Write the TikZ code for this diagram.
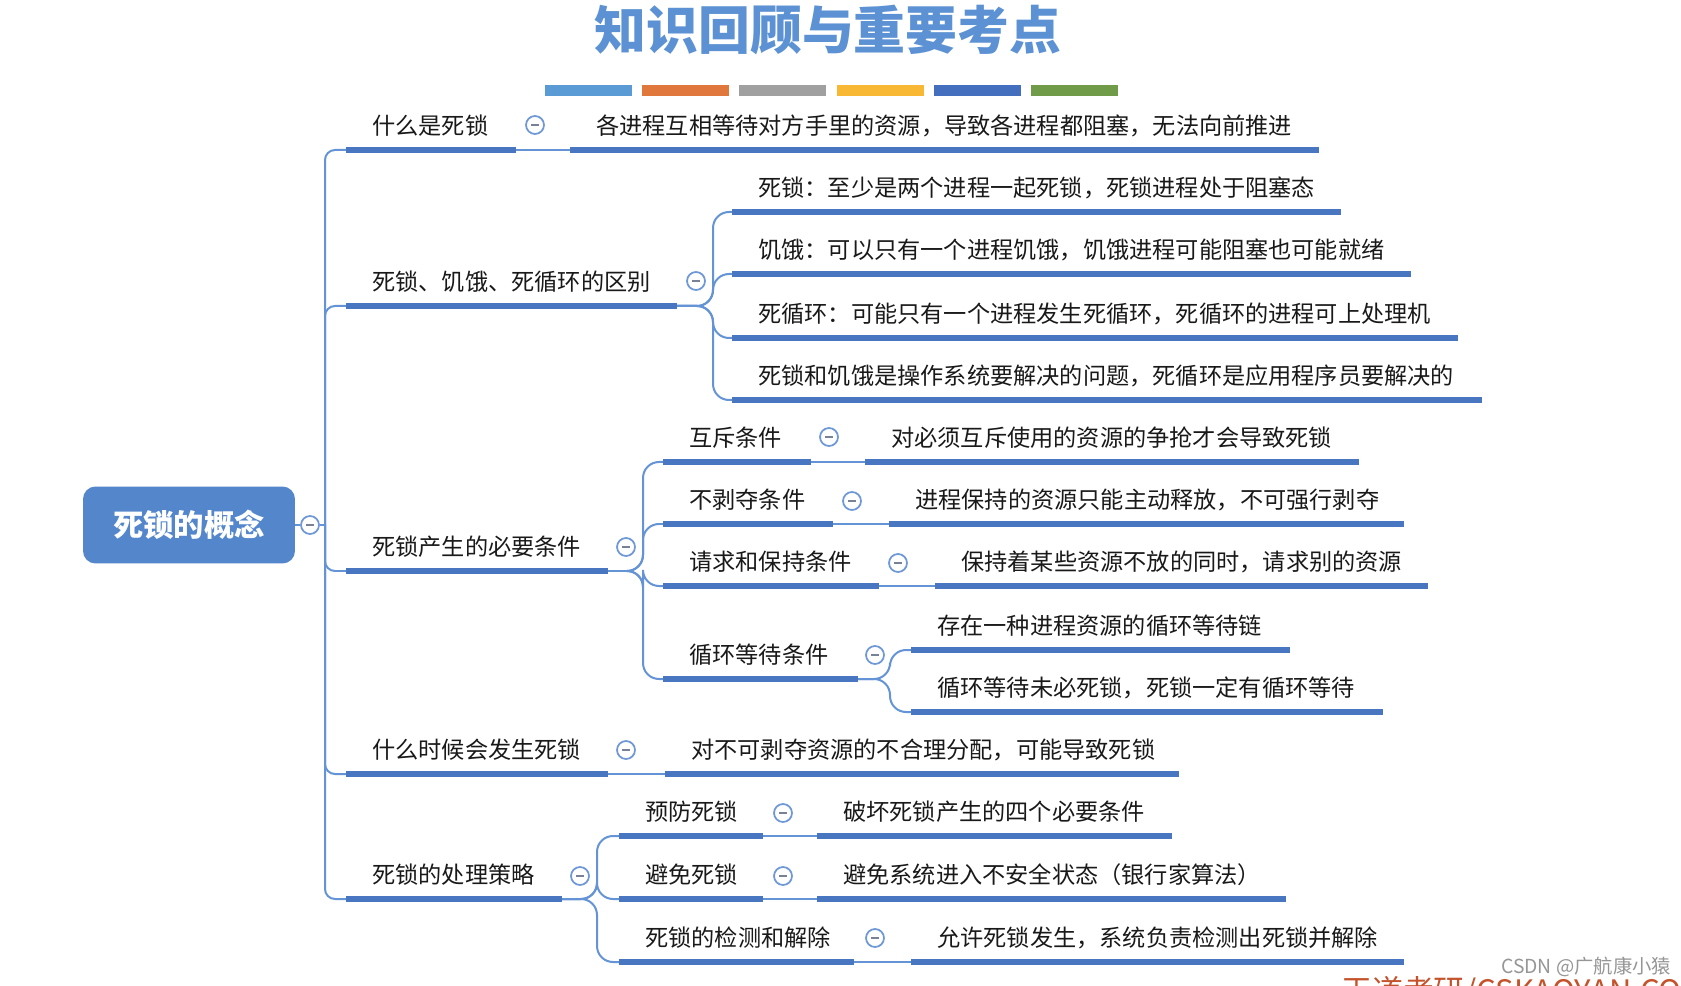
\documentclass[tikz,border=0pt]{standalone}
\usepackage{fontspec}
\setmainfont{Noto Sans CJK SC}
\usepackage{tikz}
\usepackage{xcolor}

\definecolor{titlec}{RGB}{92,146,212}
\definecolor{rootc}{RGB}{84,134,204}
\definecolor{underc}{RGB}{72,118,192}
\definecolor{linkc}{RGB}{100,148,214}
\definecolor{foldc}{RGB}{110,152,214}
\definecolor{minusc}{RGB}{120,130,150}
\definecolor{textc}{RGB}{25,25,25}
\definecolor{wmc}{RGB}{150,150,150}
\definecolor{wdc}{RGB}{196,82,42}
\definecolor{barA}{RGB}{91,155,213}
\definecolor{barB}{RGB}{224,120,62}
\definecolor{barC}{RGB}{160,160,160}
\definecolor{barD}{RGB}{248,184,52}
\definecolor{barE}{RGB}{68,110,190}
\definecolor{barF}{RGB}{112,155,72}

\tikzset{
  under/.style={draw=underc, line width=0.11cm},
  link/.style={draw=linkc, line width=0.04cm, rounded corners=0.2cm},
  fork/.style={link, rounded corners=0.32cm},
  topic/.style={anchor=west, inner sep=0, text=textc, font=\fontsize{13.2pt}{16pt}\selectfont},
  fold/.style={circle, draw=foldc, line width=0.035cm, fill=white, minimum size=0.36cm, inner sep=0,
    path picture={\draw[minusc, line width=0.03cm]
      ([xshift=-0.08cm]path picture bounding box.center) -- ([xshift=0.08cm]path picture bounding box.center);}},
  rootbox/.style={fill=rootc, rounded corners=0.25cm, minimum width=4.24cm, minimum height=1.54cm,
    text=white, font=\fontsize{17.3pt}{20pt}\selectfont\bfseries},
}

% name, left x, right x, underline y, text
\newcommand\mmtopic[5]{%
  \coordinate (#1-l) at (#2,#4);
  \coordinate (#1-r) at (#3,#4);
  \draw[under] (#1-l) -- (#1-r);
  \node[topic] (#1) at (#2+26,#4-24) {#5};}

\begin{document}
\begin{tikzpicture}[x=0.02cm,y=-0.02cm]
\useasboundingbox (0,0) rectangle (1681,986);
\clip (0,0) rectangle (1681,986);
\fill[white] (0,0) rectangle (1681,986);

%% title
\node[text=titlec, font=\fontsize{29.5pt}{34pt}\selectfont\bfseries] (title) at (828,30) {知识回顾与重要考点};
\foreach \c [count=\i] in {barA,barB,barC,barD,barE,barF}
  \fill[\c] (545+97.2*\i-97.2,85) rectangle ++(87,11);

%% root
\node[rootbox] (root) at (189,525) {死锁的概念};
\node[fold] (rf) at (310,525) {};
\coordinate (trunk) at (325,525);
\draw[link] (root) -- (rf) (rf) -- (trunk);

%% level 1
\mmtopic{b1}{346}{516}{150}{什么是死锁}
\mmtopic{b2}{346}{677}{306}{死锁、饥饿、死循环的区别}
\mmtopic{b3}{346}{608}{571}{死锁产生的必要条件}
\mmtopic{b4}{346}{608}{774}{什么时候会发生死锁}
\mmtopic{b5}{346}{562}{899}{死锁的处理策略}
\foreach \b in {b1,b2,b3,b4,b5}
  \draw[link] (trunk) |- (\b-l);

%% what is deadlock
\mmtopic{d1}{570}{1319}{150}{各进程互相等待对方手里的资源，导致各进程都阻塞，无法向前推进}
\draw[link] (b1-r) -- (d1-l);

%% difference
\mmtopic{c21}{732}{1341}{212}{死锁：至少是两个进程一起死锁，死锁进程处于阻塞态}
\mmtopic{c22}{732}{1411}{274}{饥饿：可以只有一个进程饥饿，饥饿进程可能阻塞也可能就绪}
\mmtopic{c23}{732}{1458}{338}{死循环：可能只有一个进程发生死循环，死循环的进程可上处理机}
\mmtopic{c24}{732}{1482}{400}{死锁和饥饿是操作系统要解决的问题，死循环是应用程序员要解决的}
\foreach \c in {c21,c22,c23,c24}
  \draw[fork] (b2-r) -- ++(36,0) |- (\c-l);

%% conditions
\mmtopic{c31}{663}{811}{462}{互斥条件}
\mmtopic{c32}{663}{833}{524}{不剥夺条件}
\mmtopic{c33}{663}{879}{586}{请求和保持条件}
\mmtopic{c34}{663}{858}{679}{循环等待条件}
\foreach \c in {c31,c32,c33,c34}
  \draw[fork] (b3-r) -- ++(35,0) |- (\c-l);
\mmtopic{d31}{865}{1359}{462}{对必须互斥使用的资源的争抢才会导致死锁}
\mmtopic{d32}{889}{1404}{524}{进程保持的资源只能主动释放，不可强行剥夺}
\mmtopic{d33}{935}{1428}{586}{保持着某些资源不放的同时，请求别的资源}
\draw[link] (c31-r) -- (d31-l);
\draw[link] (c32-r) -- (d32-l);
\draw[link] (c33-r) -- (d33-l);
\mmtopic{e1}{911}{1290}{650}{存在一种进程资源的循环等待链}
\mmtopic{e2}{911}{1383}{712}{循环等待未必死锁，死锁一定有循环等待}
\foreach \c in {e1,e2}
  \draw[fork] (c34-r) -- ++(32,0) |- (\c-l);

%% when
\mmtopic{d4}{665}{1179}{774}{对不可剥夺资源的不合理分配，可能导致死锁}
\draw[link] (b4-r) -- (d4-l);

%% strategies
\mmtopic{c51}{619}{763}{836}{预防死锁}
\mmtopic{c52}{619}{763}{899}{避免死锁}
\mmtopic{c53}{619}{854}{962}{死锁的检测和解除}
\foreach \c in {c51,c52,c53}
  \draw[fork] (b5-r) -- ++(35,0) |- (\c-l);
\mmtopic{d51}{817}{1172}{836}{破坏死锁产生的四个必要条件}
\mmtopic{d52}{817}{1286}{899}{避免系统进入不安全状态（银行家算法）}
\mmtopic{d53}{911}{1404}{962}{允许死锁发生，系统负责检测出死锁并解除}
\draw[link] (c51-r) -- (d51-l);
\draw[link] (c52-r) -- (d52-l);
\draw[link] (c53-r) -- (d53-l);

%% fold marks
\node[fold] (f1) at (535,125) {};
\node[fold] (f2) at (696,281) {};
\node[fold] (f3) at (626,547) {};
\node[fold] (f31) at (829,437) {};
\node[fold] (f32) at (852,501) {};
\node[fold] (f33) at (898,563) {};
\node[fold] (f34) at (875,655) {};
\node[fold] (f4) at (626,750) {};
\node[fold] (f5) at (580,876) {};
\node[fold] (f51) at (783,813) {};
\node[fold] (f52) at (783,876) {};
\node[fold] (f53) at (875,938) {};

%% marks
\node[anchor=base west, text=wdc, font=\fontsize{17.6pt}{20pt}\selectfont] (wd) at (1335,1002) {王道考研/CSKAOYAN.COM};
\node[anchor=west, text=wmc, font=\fontsize{11pt}{13pt}\selectfont] (wm) at (1495,967) {CSDN @广航康小猿};
\end{tikzpicture}
\end{document}
